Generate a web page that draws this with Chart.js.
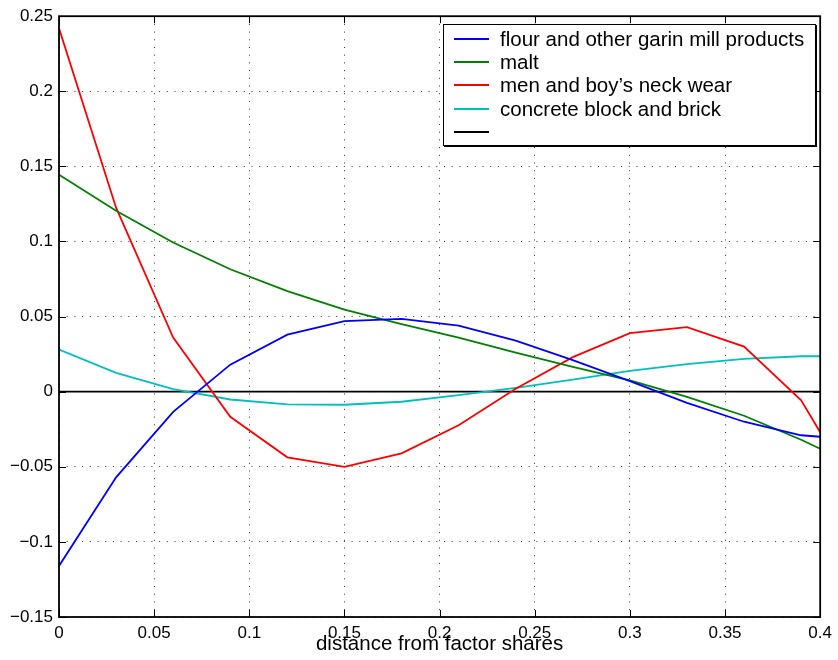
<!DOCTYPE html>
<html lang="en">
<head>
<meta charset="UTF-8">
<title>distance from factor shares</title>
<script src="https://cdn.jsdelivr.net/npm/chart.js"></script>
<style>
    body {
        margin: 0;
        background: #fff;
        font-family: "Liberation Sans", Arial, sans-serif;
    }
    #wrap {
        position: relative;
        width: 838px;
        height: 660px;
    }
    #legend {
        position: absolute;
        left: 443px;
        top: 24px;
        width: 371px;
        height: 120px;
        background: #fff;
        border: 1px solid #000;
        box-shadow: 1px 1px 0 #000;
    }
    .row {
        position: absolute;
        left: 0;
        height: 24px;
        line-height: 24px;
        font-size: 20.5px;
        color: #000;
        white-space: nowrap;
    }
    .swatch {
        position: absolute;
        left: 10px;
        top: 11px;
        width: 35px;
        height: 0;
        border-top: 2px solid #000;
    }
    .label {
        position: absolute;
        left: 56px;
        top: 0;
    }
</style>
</head>
<body>
<div id="wrap">
    <canvas id="chart" width="838" height="660"></canvas>
    <div id="legend"></div>
</div>
<script>
    // values
    const xValues = [0, 0.03, 0.06, 0.09, 0.12, 0.15, 0.18, 0.21, 0.24, 0.27, 0.30, 0.33, 0.36, 0.39, 0.40];
    const flour = [-0.116, -0.057, -0.0134, 0.018, 0.038, 0.047, 0.0485, 0.044, 0.034, 0.021, 0.007, -0.0074, -0.020, -0.029, -0.030];
    const malt = [0.1445, 0.1205, 0.0993, 0.0815, 0.067, 0.0546, 0.045, 0.036, 0.026, 0.0165, 0.0076, -0.0034, -0.016, -0.032, -0.038];
    const neckWear = [0.242, 0.1225, 0.036, -0.0167, -0.0437, -0.050, -0.041, -0.0223, 0.002, 0.023, 0.039, 0.043, 0.030, -0.0057, -0.027];
    const concrete = [0.028, 0.0125, 0.0017, -0.0052, -0.0085, -0.0087, -0.0067, -0.0023, 0.0025, 0.008, 0.0138, 0.0183, 0.0218, 0.0236, 0.0236];
    const zeroX = [0, 0.4];
    const zeroY = [0, 0];

    const seriesNames = ['flour and other garin mill products', 'malt', 'men and boy\u2019s neck wear', 'concrete block and brick', ''];
    const seriesColors = ['#0000ff', '#008000', '#ff0000', '#00bfbf', '#000000'];

    const xTicks = [0, 0.05, 0.1, 0.15, 0.2, 0.25, 0.3, 0.35, 0.4];
    const yTicks = [-0.15, -0.1, -0.05, 0, 0.05, 0.1, 0.15, 0.2, 0.25];

    function toPoints(xs, ys) {
        return xs.map((x, i) => ({ x: x, y: ys[i] }));
    }

    function fmt(v) {
        return String(parseFloat(v.toFixed(2))).replace('-', '\u2212');
    }

    const allSeries = [flour, malt, neckWear, concrete];
    const datasets = allSeries.map((s, i) => ({
        label: seriesNames[i],
        data: toPoints(xValues, s),
        borderColor: seriesColors[i],
        borderWidth: 1.8,
        pointRadius: 0,
        tension: 0,
        fill: false
    }));
    datasets.push({
        label: seriesNames[4],
        data: toPoints(zeroX, zeroY),
        borderColor: seriesColors[4],
        borderWidth: 1.8,
        pointRadius: 0,
        fill: false
    });

    // inward tick marks + full box, matlab style
    const boxTicks = {
        id: 'boxTicks',
        afterDatasetsDraw(chart) {
            const ctx = chart.ctx;
            const a = chart.chartArea;
            const xs = chart.scales.x, ys = chart.scales.y;
            const len = 7;
            ctx.save();
            ctx.strokeStyle = '#000';
            ctx.lineWidth = 1;
            ctx.beginPath();
            xTicks.forEach(v => {
                const px = Math.round(xs.getPixelForValue(v)) + 0.5;
                ctx.moveTo(px, a.bottom); ctx.lineTo(px, a.bottom - len);
                ctx.moveTo(px, a.top); ctx.lineTo(px, a.top + len);
            });
            yTicks.forEach(v => {
                const py = Math.round(ys.getPixelForValue(v)) + 0.5;
                ctx.moveTo(a.left, py); ctx.lineTo(a.left + len, py);
                ctx.moveTo(a.right, py); ctx.lineTo(a.right - len, py);
            });
            ctx.stroke();
            ctx.lineWidth = 1.8;
            ctx.strokeRect(a.left, a.top, a.right - a.left, a.bottom - a.top);
            ctx.restore();
        }
    };

    const ctx = document.getElementById('chart').getContext('2d');
    const chart = new Chart(ctx, {
        type: 'line',
        data: { datasets: datasets },
        plugins: [boxTicks],
        options: {
            responsive: false,
            animation: false,
            layout: { padding: { top: 15, right: 15, left: 0, bottom: 0 } },
            plugins: {
                legend: { display: false },
                tooltip: { enabled: false }
            },
            scales: {
                x: {
                    type: 'linear',
                    min: 0,
                    max: 0.4,
                    afterBuildTicks(scale) {
                        scale.ticks = xTicks.map(v => ({ value: v }));
                    },
                    afterFit(scale) { scale.height = 43; },
                    grid: {
                        color: '#333',
                        lineWidth: 1,
                        drawTicks: false
                    },
                    border: { display: false, dash: [1, 6.7] },
                    ticks: {
                        color: '#000',
                        font: { family: '"Liberation Sans", Arial, sans-serif', size: 17 },
                        padding: 6,
                        maxRotation: 0,
                        callback: v => fmt(v)
                    },
                    title: {
                        display: true,
                        text: 'distance from factor shares',
                        color: '#000',
                        font: { family: '"Liberation Sans", Arial, sans-serif', size: 20.5 },
                        padding: { top: 0, bottom: 3 }
                    }
                },
                y: {
                    type: 'linear',
                    min: -0.15,
                    max: 0.25,
                    afterBuildTicks(scale) {
                        scale.ticks = yTicks.map(v => ({ value: v }));
                    },
                    afterFit(scale) { scale.width = 59; },
                    grid: {
                        color: '#333',
                        lineWidth: 1,
                        drawTicks: false
                    },
                    border: { display: false, dash: [1, 6.7] },
                    ticks: {
                        color: '#000',
                        font: { family: '"Liberation Sans", Arial, sans-serif', size: 17 },
                        padding: 6,
                        callback: v => fmt(v)
                    }
                }
            }
        }
    });

    // legend box drawn in the top right corner of the axes
    const legend = document.getElementById('legend');
    seriesNames.forEach((name, i) => {
        const row = document.createElement('div');
        row.className = 'row';
        row.style.top = (1.5 + 23.4 * i) + 'px';
        const sw = document.createElement('span');
        sw.className = 'swatch';
        sw.style.borderTopColor = seriesColors[i];
        const lb = document.createElement('span');
        lb.className = 'label';
        lb.textContent = name;
        row.appendChild(sw);
        row.appendChild(lb);
        legend.appendChild(row);
    });
</script>
</body>
</html>
